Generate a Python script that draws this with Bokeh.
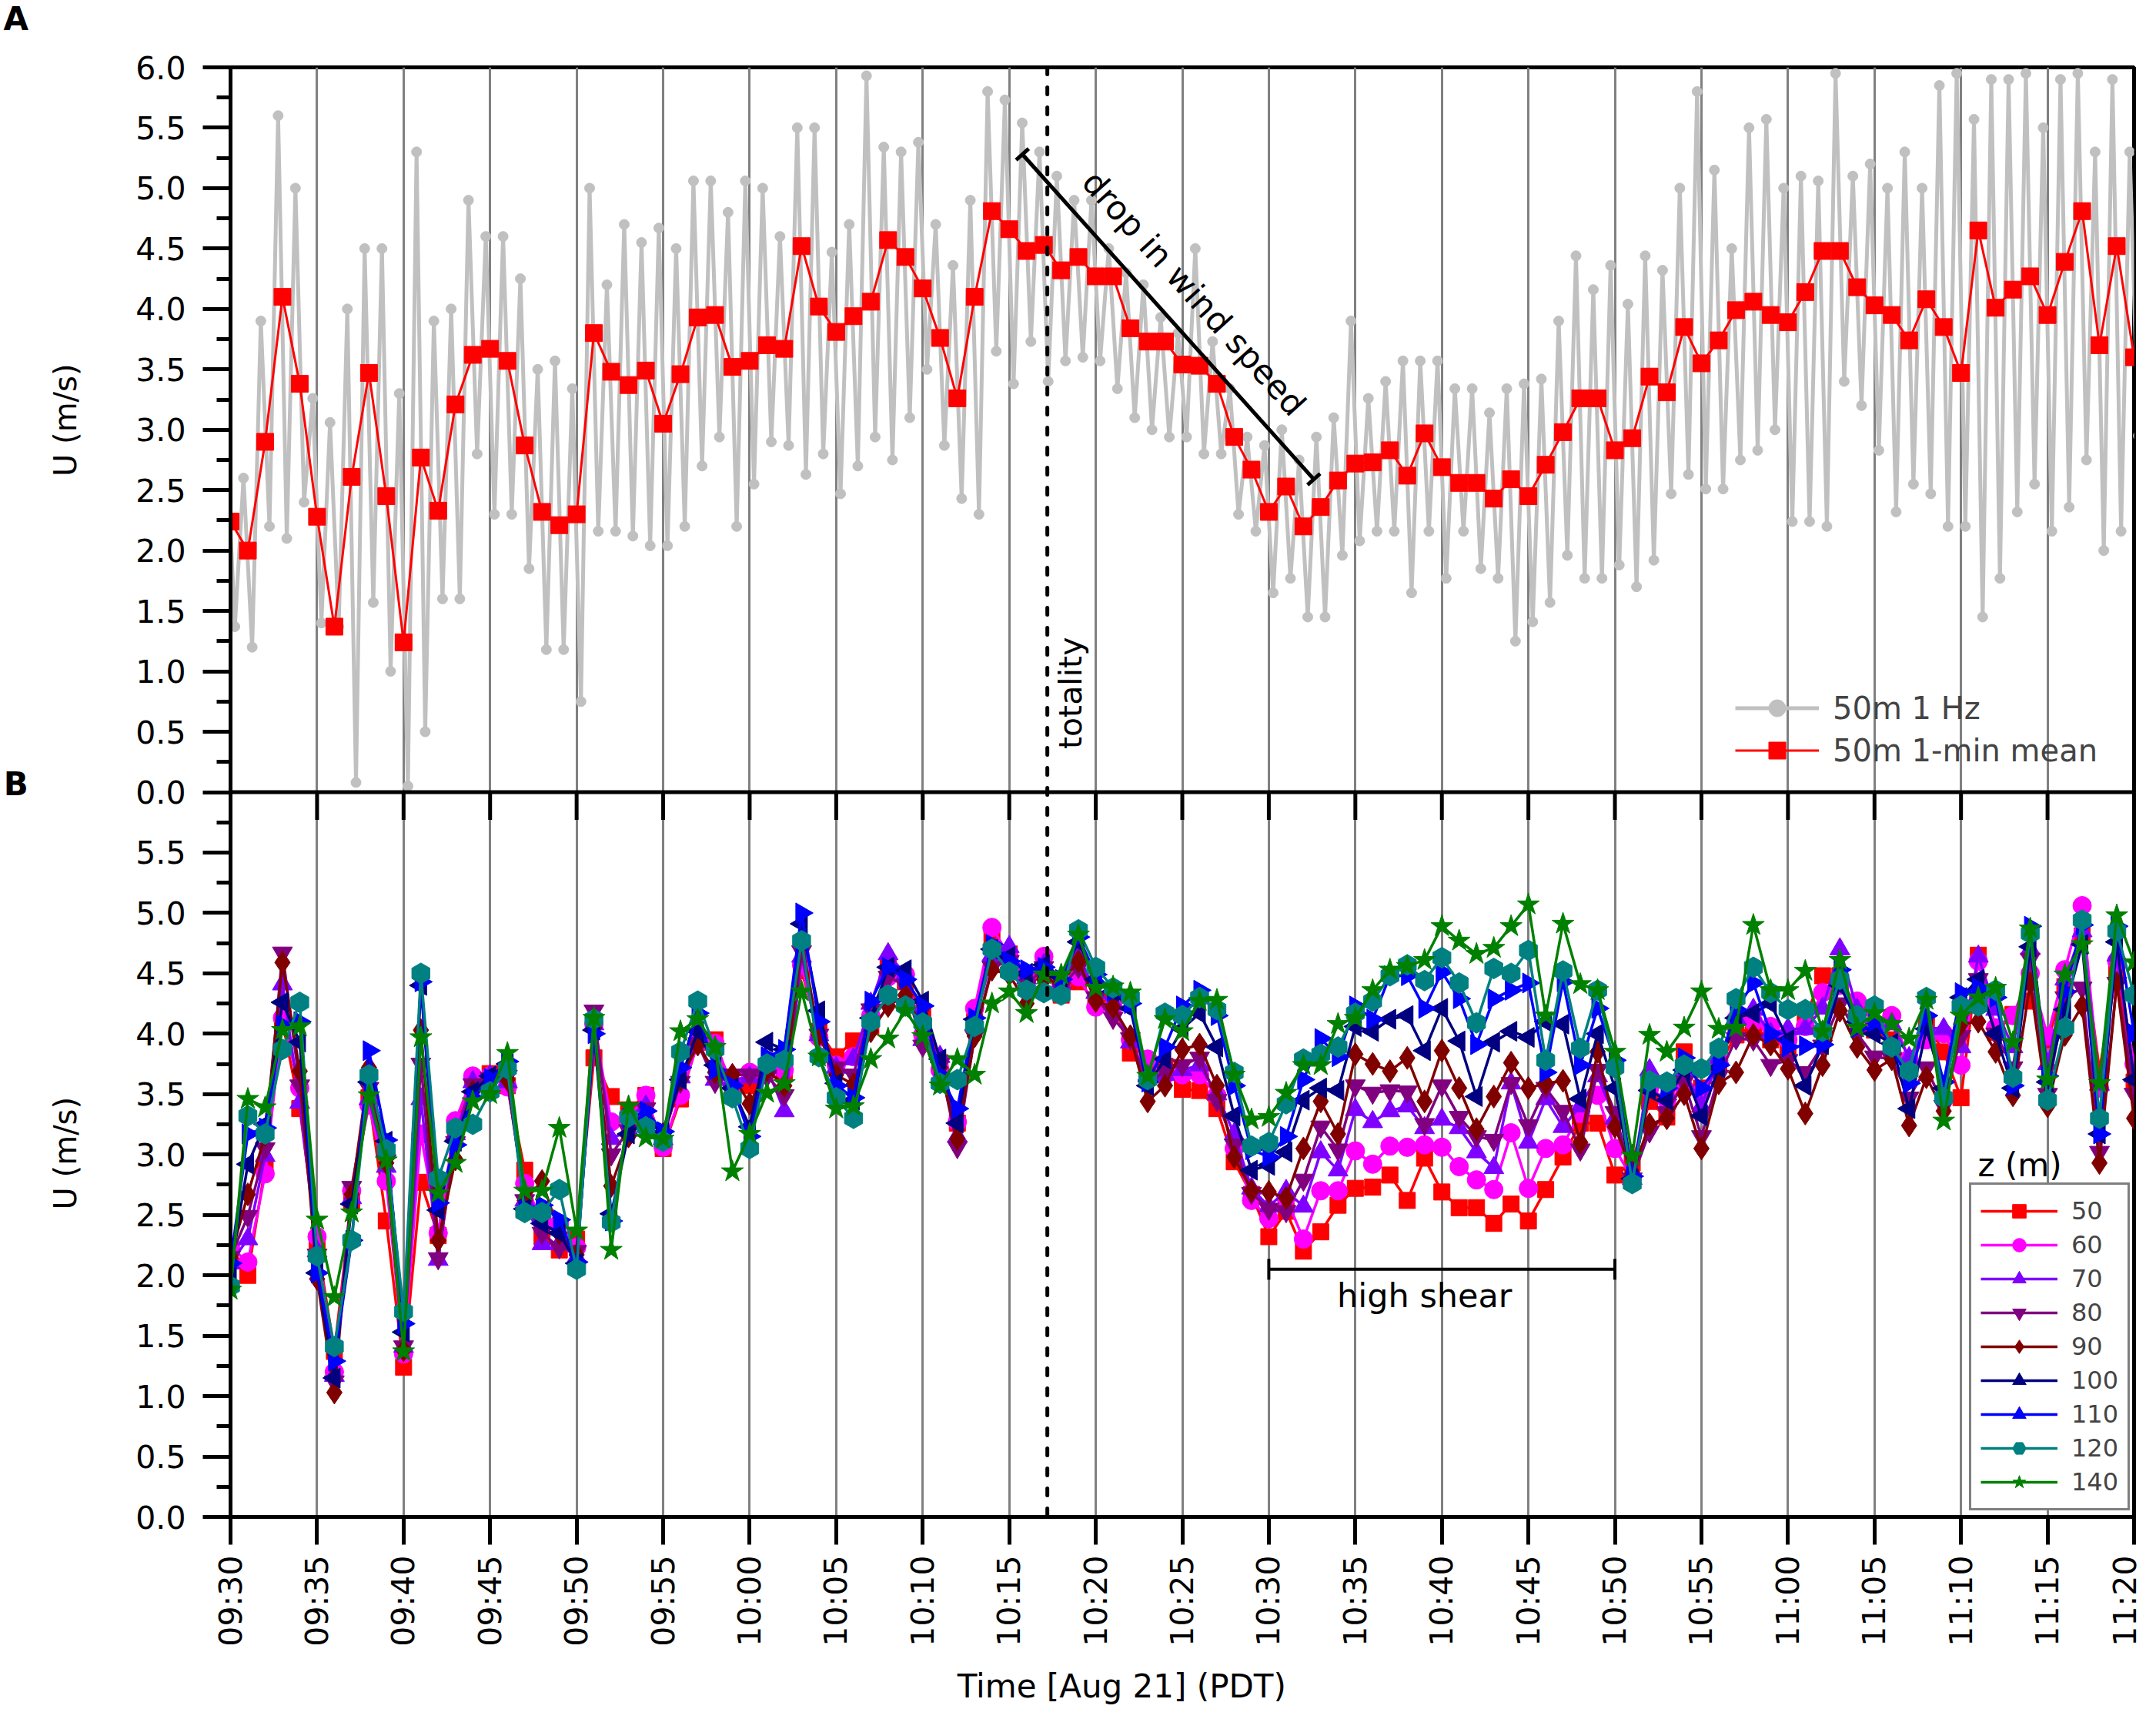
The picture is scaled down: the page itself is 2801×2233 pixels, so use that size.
import numpy as np
from bokeh.plotting import figure
from bokeh.models import Range1d, FixedTicker, Span, Label, Legend, LegendItem, Arrow, TeeHead
from bokeh.embed import file_html
from bokeh.resources import INLINE

FONT = "DejaVu Sans"

# ---------------- data ----------------
time_labels = ["09:30", "09:35", "09:40", "09:45", "09:50", "09:55", "10:00", "10:05",
               "10:10", "10:15", "10:20", "10:25", "10:30", "10:35", "10:40", "10:45",
               "10:50", "10:55", "11:00", "11:05", "11:10", "11:15", "11:20"]

# Panel A: 50 m, 1 Hz samples summarised per minute as highest / lowest sample
u50_1hz_high = [2.95, 2.60, 3.90, 5.60, 5.00, 3.26, 3.06, 4.00, 4.50, 4.50,
                3.30, 5.30, 3.90, 4.00, 4.90, 4.60, 4.60, 4.25, 3.50, 3.57,
                3.34, 5.00, 4.20, 4.70, 4.55, 4.67, 4.50, 5.06, 5.06, 4.80,
                5.06, 5.00, 4.60, 5.50, 5.50, 4.47, 4.70, 5.93, 5.34, 5.30,
                5.38, 4.70, 4.36, 4.90, 5.80, 5.73, 5.54, 5.30, 5.10, 4.90,
                4.90, 4.50, 4.30, 4.20, 3.93, 3.80, 4.50, 3.73, 3.34, 2.94,
                2.87, 3.00, 2.75, 2.94, 3.10, 3.90, 3.26, 3.40, 3.57, 3.57,
                3.57, 3.34, 3.34, 3.14, 3.34, 3.38, 3.42, 3.90, 4.44, 4.16,
                4.36, 4.04, 4.44, 4.32, 5.00, 5.80, 5.15, 4.50, 5.50, 5.57,
                5.00, 5.10, 5.06, 5.95, 5.10, 5.20, 5.00, 5.30, 5.00, 5.85,
                5.95, 5.57, 5.90, 5.90, 5.95, 5.50, 5.90, 5.95, 5.30, 5.90,
                5.30]
u50_1hz_low = [1.37, 1.20, 2.20, 2.10, 2.40, 1.40, 1.37, 0.08, 1.57, 1.00,
               0.05, 0.50, 1.60, 1.60, 2.80, 2.30, 2.30, 1.85, 1.18, 1.18,
               0.75, 2.16, 2.16, 2.12, 2.04, 2.04, 2.20, 2.70, 2.94, 2.20,
               2.55, 2.90, 2.87, 2.63, 2.80, 2.47, 2.70, 2.94, 2.75, 3.10,
               3.50, 2.87, 2.43, 2.30, 3.65, 3.38, 3.73, 3.40, 3.57, 3.60,
               3.57, 3.34, 3.10, 3.00, 2.94, 2.94, 2.80, 2.80, 2.30, 2.16,
               1.65, 1.77, 1.45, 1.45, 1.96, 2.08, 2.16, 2.16, 1.65, 2.16,
               1.77, 2.16, 1.85, 1.77, 1.25, 1.41, 1.57, 1.96, 1.77, 1.77,
               1.88, 1.70, 1.92, 2.47, 2.63, 2.51, 2.51, 2.75, 2.83, 3.00,
               2.24, 2.24, 2.20, 3.40, 3.20, 2.83, 2.32, 2.55, 2.47, 2.20,
               2.20, 1.45, 1.77, 2.32, 2.55, 2.16, 2.36, 2.75, 2.00, 2.16,
               2.95]

# 1-min means (panel A red, and z = 50 m in panel B)
u50 = [2.24, 2.00, 2.90, 4.10, 3.38, 2.28, 1.37, 2.61, 3.47, 2.45,
       1.24, 2.77, 2.33, 3.21, 3.62, 3.67, 3.57, 2.87, 2.32, 2.21,
       2.30, 3.80, 3.48, 3.37, 3.49, 3.05, 3.46, 3.93, 3.95, 3.52,
       3.57, 3.70, 3.67, 4.52, 4.02, 3.81, 3.94, 4.06, 4.57, 4.43,
       4.17, 3.76, 3.26, 4.10, 4.81, 4.66, 4.48, 4.53, 4.32, 4.43,
       4.27, 4.27, 3.84, 3.73, 3.73, 3.54, 3.53, 3.38, 2.94, 2.67,
       2.32, 2.53, 2.20, 2.36, 2.58, 2.72, 2.73, 2.83, 2.62, 2.97,
       2.69, 2.56, 2.56, 2.43, 2.59, 2.45, 2.71, 2.98, 3.26, 3.26,
       2.83, 2.93, 3.44, 3.31, 3.85, 3.55, 3.74, 3.99, 4.06, 3.95,
       3.89, 4.14, 4.48, 4.48, 4.18, 4.03, 3.95, 3.74, 4.08, 3.85,
       3.47, 4.65, 4.01, 4.16, 4.27, 3.95, 4.39, 4.81, 3.70, 4.52,
       3.60]
u60 = [2.23, 2.11, 2.84, 4.13, 3.55, 2.32, 1.20, 2.70, 3.41, 2.78,
       1.35, 3.17, 2.35, 3.28, 3.65, 3.65, 3.56, 2.76, 2.45, 2.43,
       2.23, 4.08, 3.27, 3.30, 3.49, 3.06, 3.49, 3.92, 3.92, 3.57,
       3.68, 3.70, 3.70, 4.57, 3.97, 3.74, 3.81, 4.15, 4.47, 4.49,
       3.99, 3.70, 3.27, 4.21, 4.88, 4.64, 4.45, 4.64, 4.40, 4.47,
       4.22, 4.22, 3.95, 3.79, 3.66, 3.66, 3.66, 3.49, 3.05, 2.62,
       2.47, 2.64, 2.30, 2.70, 2.70, 3.03, 2.92, 3.07, 3.06, 3.08,
       3.06, 2.90, 2.79, 2.71, 3.18, 2.72, 3.05, 3.08, 3.34, 3.49,
       3.05, 2.80, 3.55, 3.45, 3.55, 3.51, 3.78, 4.12, 4.10, 4.06,
       3.95, 4.06, 4.34, 4.40, 4.27, 4.08, 4.15, 3.79, 3.95, 4.00,
       3.74, 4.60, 4.05, 4.15, 4.50, 3.98, 4.53, 5.06, 3.55, 4.60,
       3.75]
u70 = [2.10, 2.30, 2.99, 4.41, 3.43, 2.20, 1.17, 2.64, 3.46, 2.90,
       1.41, 3.46, 2.13, 3.17, 3.60, 3.65, 3.60, 2.62, 2.26, 2.26,
       2.15, 4.08, 3.13, 3.20, 3.40, 3.13, 3.64, 3.95, 3.62, 3.62,
       3.64, 3.72, 3.36, 4.64, 3.99, 3.72, 3.79, 4.25, 4.66, 4.49,
       3.95, 3.81, 3.15, 4.08, 4.65, 4.72, 4.46, 4.57, 4.42, 4.65,
       4.34, 4.25, 3.93, 3.65, 3.66, 3.70, 3.74, 3.50, 3.17, 2.72,
       2.57, 2.70, 2.57, 3.02, 2.87, 3.37, 3.27, 3.36, 3.40, 3.22,
       3.29, 3.22, 3.02, 2.89, 3.59, 3.10, 3.46, 3.23, 3.40, 3.65,
       3.30, 2.80, 3.70, 3.50, 3.70, 3.40, 3.80, 4.13, 4.20, 4.00,
       4.04, 4.04, 4.21, 4.70, 4.20, 4.05, 4.08, 3.80, 4.05, 4.04,
       3.89, 4.64, 4.20, 3.89, 4.70, 3.75, 4.45, 4.85, 3.58, 4.65,
       3.65]
u80 = [2.15, 2.49, 3.05, 4.67, 3.57, 2.17, 1.12, 2.73, 3.55, 2.95,
       1.41, 3.75, 2.14, 3.10, 3.58, 3.63, 3.65, 2.62, 2.35, 2.23,
       2.20, 4.19, 3.00, 3.20, 3.38, 3.15, 3.60, 3.92, 3.60, 3.66,
       3.66, 3.65, 3.49, 4.68, 3.99, 3.72, 3.66, 4.20, 4.47, 4.40,
       3.90, 3.75, 3.06, 3.98, 4.55, 4.60, 4.40, 4.55, 4.38, 4.55,
       4.30, 4.13, 3.96, 3.57, 3.70, 3.74, 3.80, 3.45, 3.08, 2.68,
       2.55, 2.53, 2.79, 3.23, 3.04, 3.57, 3.51, 3.53, 3.52, 3.25,
       3.57, 3.31, 3.15, 3.12, 3.59, 3.24, 3.55, 3.36, 3.04, 3.70,
       3.35, 2.80, 3.19, 3.35, 3.60, 3.15, 3.65, 3.96, 3.95, 3.74,
       3.78, 3.68, 3.90, 4.25, 4.00, 3.81, 3.79, 3.47, 3.72, 3.40,
       3.98, 4.45, 4.00, 3.72, 4.62, 3.50, 4.30, 4.38, 3.02, 4.42,
       3.50]
u90 = [2.15, 2.67, 3.16, 4.59, 3.69, 1.97, 1.03, 2.67, 3.72, 2.93,
       1.38, 4.03, 2.29, 2.96, 3.52, 3.60, 3.62, 2.62, 2.78, 2.35,
       2.17, 4.05, 2.74, 3.15, 3.30, 3.17, 3.62, 3.91, 3.68, 3.66,
       3.42, 3.70, 3.57, 4.76, 3.99, 3.66, 3.58, 4.02, 4.23, 4.32,
       4.04, 3.72, 3.13, 3.98, 4.53, 4.49, 4.25, 4.45, 4.42, 4.60,
       4.27, 4.22, 3.98, 3.44, 3.57, 3.87, 3.91, 3.57, 2.98, 2.70,
       2.69, 2.64, 3.05, 3.44, 3.17, 3.83, 3.75, 3.69, 3.80, 3.44,
       3.86, 3.55, 3.21, 3.48, 3.76, 3.55, 3.59, 3.61, 3.10, 3.85,
       3.23, 2.85, 3.25, 3.30, 3.50, 3.05, 3.59, 3.68, 3.99, 3.91,
       3.71, 3.34, 3.74, 4.19, 3.89, 3.70, 3.79, 3.24, 3.64, 3.36,
       4.08, 4.10, 3.85, 3.49, 4.42, 3.40, 3.99, 4.23, 2.93, 4.42,
       3.30]
u100 = [2.05, 2.92, 3.25, 4.26, 3.93, 2.02, 1.15, 2.59, 3.60, 3.11,
        1.53, 4.40, 2.54, 3.11, 3.52, 3.65, 3.75, 2.55, 2.43, 2.35,
        2.10, 4.03, 2.51, 3.17, 3.28, 3.18, 3.62, 4.02, 3.74, 3.55,
        3.23, 3.93, 3.87, 4.91, 4.19, 3.59, 3.45, 4.13, 4.55, 4.53,
        4.27, 3.79, 3.26, 4.12, 4.70, 4.64, 4.50, 4.57, 4.47, 4.76,
        4.45, 4.35, 4.21, 3.57, 3.79, 4.04, 4.17, 3.89, 3.32, 2.87,
        2.91, 3.02, 3.45, 3.55, 3.53, 4.06, 4.02, 4.12, 4.15, 3.86,
        4.21, 3.94, 3.48, 3.93, 4.02, 3.97, 4.10, 4.08, 3.46, 4.00,
        3.55, 2.80, 3.53, 3.45, 3.70, 3.32, 3.72, 4.13, 4.17, 4.25,
        3.95, 3.57, 3.91, 4.40, 4.10, 4.00, 3.92, 3.38, 4.04, 3.55,
        4.30, 4.45, 4.00, 3.55, 4.72, 3.60, 4.20, 4.74, 3.17, 4.76,
        3.62]
u110 = [2.10, 3.17, 3.22, 4.07, 4.10, 2.02, 1.29, 2.29, 3.86, 3.12,
        1.60, 4.43, 2.60, 3.08, 3.47, 3.63, 3.77, 2.55, 2.58, 2.46,
        2.11, 4.00, 2.45, 3.30, 3.36, 3.19, 3.72, 4.17, 3.70, 3.57,
        3.15, 3.81, 3.87, 5.00, 4.10, 3.57, 3.47, 4.27, 4.55, 4.45,
        4.23, 3.66, 3.38, 4.13, 4.74, 4.60, 4.53, 4.55, 4.45, 4.80,
        4.49, 4.35, 4.25, 3.60, 3.89, 4.23, 4.36, 4.15, 3.57, 3.04,
        2.98, 3.15, 3.62, 3.96, 3.81, 4.23, 4.12, 4.48, 4.48, 4.21,
        4.51, 4.29, 3.91, 4.29, 4.36, 4.42, 3.68, 4.43, 3.74, 4.21,
        3.78, 2.82, 3.60, 3.55, 3.80, 3.55, 3.74, 4.20, 4.42, 4.00,
        3.89, 3.90, 3.91, 4.53, 4.05, 4.10, 3.90, 3.59, 4.15, 3.60,
        4.34, 4.38, 4.30, 3.57, 4.89, 3.65, 4.35, 4.90, 3.17, 4.89,
        4.00]
u120 = [1.91, 3.32, 3.17, 3.87, 4.26, 2.16, 1.41, 2.29, 3.66, 3.04,
        1.70, 4.50, 2.80, 3.22, 3.25, 3.52, 3.71, 2.52, 2.52, 2.71,
        2.05, 4.12, 2.44, 3.31, 3.23, 3.11, 3.85, 4.27, 3.87, 3.47,
        3.05, 3.75, 3.78, 4.77, 3.81, 3.47, 3.30, 4.10, 4.32, 4.23,
        4.09, 3.59, 3.62, 4.06, 4.70, 4.51, 4.36, 4.34, 4.32, 4.86,
        4.55, 4.38, 4.30, 3.62, 4.17, 4.15, 4.30, 4.20, 3.68, 3.07,
        3.10, 3.42, 3.79, 3.83, 3.89, 4.17, 4.27, 4.48, 4.57, 4.44,
        4.63, 4.42, 4.09, 4.54, 4.50, 4.69, 3.78, 4.52, 3.88, 4.36,
        3.72, 2.76, 3.61, 3.60, 3.74, 3.71, 3.88, 4.29, 4.55, 4.34,
        4.20, 4.20, 4.02, 4.45, 4.15, 4.23, 3.89, 3.69, 4.30, 3.47,
        4.23, 4.23, 4.36, 3.64, 4.83, 3.45, 4.05, 4.94, 3.30, 4.85,
        4.32]
u140 = [1.88, 3.46, 3.39, 4.03, 4.06, 2.46, 1.82, 2.52, 3.49, 2.95,
        1.37, 3.97, 2.68, 2.93, 3.44, 3.50, 3.84, 2.70, 2.70, 3.22,
        2.37, 4.13, 2.21, 3.40, 3.14, 3.13, 4.02, 4.12, 3.89, 2.86,
        3.17, 3.51, 3.59, 4.35, 3.81, 3.38, 3.40, 3.79, 3.96, 4.19,
        3.98, 3.57, 3.79, 3.66, 4.25, 4.35, 4.17, 4.49, 4.49, 4.82,
        4.38, 4.39, 4.34, 3.65, 4.12, 4.02, 4.27, 4.28, 3.66, 3.29,
        3.31, 3.51, 3.74, 3.74, 4.08, 4.13, 4.36, 4.53, 4.56, 4.61,
        4.89, 4.77, 4.66, 4.71, 4.89, 5.07, 4.15, 4.91, 4.41, 4.36,
        3.85, 2.99, 3.99, 3.85, 4.05, 4.35, 4.04, 4.05, 4.90, 4.36,
        4.36, 4.52, 4.02, 4.61, 4.05, 4.17, 4.08, 3.96, 4.28, 3.28,
        4.15, 4.30, 4.38, 3.93, 4.87, 3.62, 4.49, 4.74, 3.59, 4.98,
        4.59]

heights = ["50", "60", "70", "80", "90", "100", "110", "120", "140"]
profiles = [u50, u60, u70, u80, u90, u100, u110, u120, u140]

totality_min = 47.2                    # 10:17:12
drop_start = (45.76, 5.28)             # annotation bracket in panel A
drop_end = (62.6, 2.59)
shear_start, shear_end, shear_level = 60, 80, 2.05

for arr in profiles + [u50_1hz_high, u50_1hz_low]:
    assert len(arr) == 111

# ---------------- styling ----------------
series_colors = ["#FF0000", "#FF00FF", "#8000FF", "#800080", "#800000",
                 "#000080", "#0000FF", "#008080", "#008000"]
series_markers = [("square", 21, 0.0), ("circle", 24, 0.0), ("triangle", 26, 0.0),
                  ("inverted_triangle", 26, 0.0), ("diamond", 30, 0.0),
                  ("triangle", 26, np.pi / 2), ("triangle", 26, -np.pi / 2),
                  ("hex", 27, np.pi / 2), ("star", 30, 0.0)]

minute = list(range(len(u50)))
xticks = [5 * i for i in range(len(time_labels))]
OFFSET = 6.0                           # panel A is stacked on top of panel B
ya_ticks = [0.5 * i for i in range(13)]
yb_ticks = [0.5 * i for i in range(12)]

FW, FH = 2473, 1883
BL, BT, BB = 299, 87, 244
p = figure(frame_width=FW, frame_height=FH,
           x_range=Range1d(0, xticks[-1]), y_range=Range1d(0, 2 * OFFSET),
           min_border_left=BL, min_border_right=12, min_border_top=BT, min_border_bottom=BB,
           output_backend="svg", toolbar_location=None,
           background_fill_color="white", border_fill_color="white")
p.extra_y_ranges = {"a": Range1d(-OFFSET, OFFSET)}
p.outline_line_color = "black"
p.outline_line_width = 5

p.xgrid.ticker = FixedTicker(ticks=xticks)
p.xgrid.grid_line_color = "#808080"
p.xgrid.grid_line_width = 3
p.ygrid.grid_line_color = None

xa = p.xaxis[0]
xa.ticker = FixedTicker(ticks=xticks, minor_ticks=[])
xa.major_label_overrides = {t: s for t, s in zip(xticks, time_labels)}
xa.major_label_orientation = np.pi / 2
xa.major_label_text_font = FONT
xa.major_label_text_font_size = "41px"
xa.major_label_text_color = "black"
xa.major_label_standoff = 14
xa.major_tick_out = 36
xa.major_tick_in = 0
xa.major_tick_line_width = 5
xa.minor_tick_line_color = None
xa.axis_line_width = 5

ya = p.yaxis[0]
ytick_pos = yb_ticks + [OFFSET + t for t in ya_ticks]
ytick_lab = ["%.1f" % t for t in yb_ticks] + ["%.1f" % t for t in ya_ticks]
ya.ticker = FixedTicker(ticks=ytick_pos, minor_ticks=[0.25 + 0.5 * i for i in range(24)])
ya.major_label_overrides = {t: s for t, s in zip(ytick_pos, ytick_lab)}
ya.major_label_text_font = FONT
ya.major_label_text_font_size = "41px"
ya.major_label_text_color = "black"
ya.major_label_standoff = 22
ya.major_tick_out = 36
ya.major_tick_in = 0
ya.minor_tick_out = 18
ya.minor_tick_in = 0
ya.major_tick_line_width = 5
ya.minor_tick_line_width = 5
ya.axis_line_width = 5

# ---------------- panel A ----------------
gx, gy = [], []
for m in minute:
    gx += [m - 0.25, m + 0.25]
    gy += [u50_1hz_high[m], u50_1hz_low[m]]
g_line = p.line(gx, gy, line_color="#C0C0C0", line_width=5, y_range_name="a")
g_pts = p.scatter(gx, gy, marker="circle", size=13, fill_color="#C0C0C0",
                  line_color="#C0C0C0", y_range_name="a")
r_line = p.line(minute, u50, line_color="#FF0000", line_width=3, y_range_name="a")
r_pts = p.scatter(minute, u50, marker="square", size=22, fill_color="#FF0000",
                  line_color="#FF0000", y_range_name="a")

# ---------------- panel B ----------------
items_b = []
for lab, ys, col, (mk, sz, ang) in zip(heights, profiles, series_colors, series_markers):
    ln = p.line(minute, ys, line_color=col, line_width=3.5)
    sc = p.scatter(minute, ys, marker=mk, size=sz, angle=ang, fill_color=col, line_color=col)
    items_b.append(LegendItem(label=lab, renderers=[ln, sc]))

# boundary between panels, with the tick marks pointing down into panel B
p.add_layout(Span(location=OFFSET, dimension="width", line_color="black", line_width=5))
tick_len = 36 * (2 * OFFSET) / FH
p.segment(x0=xticks, y0=[OFFSET] * len(xticks), x1=xticks, y1=[OFFSET - tick_len] * len(xticks),
          line_color="black", line_width=5)

# totality
p.add_layout(Span(location=totality_min, dimension="height", line_color="black",
                  line_width=5, line_dash="9 17", line_cap="round"))

def label(text, x, y, size="42px", angle=0.0, rng="default", bold=False, place="center"):
    kw = dict(x=x, y=y, text=text, text_font=FONT, text_font_size=size, angle=angle,
              text_align="center", text_baseline="middle", text_color="black",
              text_font_style="bold" if bold else "normal")
    if rng != "default":
        kw["y_range_name"] = rng
    p.add_layout(Label(**kw), place)

label("totality", 48.55, 0.82, size="41px", angle=np.pi / 2, rng="a")
p.add_layout(Arrow(start=TeeHead(size=22, line_width=5), end=TeeHead(size=22, line_width=5),
                   x_start=drop_start[0], y_start=drop_start[1],
                   x_end=drop_end[0], y_end=drop_end[1],
                   line_width=5, line_color="black", y_range_name="a"))
label("drop in wind speed", 55.68, 4.13, size="43px", angle=-0.8395, rng="a")

p.add_layout(Arrow(start=TeeHead(size=27, line_width=4), end=TeeHead(size=27, line_width=4),
                   x_start=shear_start, y_start=shear_level, x_end=shear_end, y_end=shear_level,
                   line_width=4, line_color="black"))
label("high shear", 69.0, 1.83, size="43px")
label("z (m)", 103.4, 2.91, size="42px")

# texts outside the frame: placed in side panels so they are not clipped to the frame
label("U (m/s)", -9.55, 9.08, size="40px", angle=np.pi / 2, place="left")
label("U (m/s)", -9.55, 3.01, size="40px", angle=np.pi / 2, place="left")
label("B", -12.4, 6.07, size="42px", bold=True, place="left")
label("A", -12.4, 12.40, size="42px", bold=True, place="above")
label("Time [Aug 21] (PDT)", 51.5, -1.40, size="42px", place="below")

# ---------------- legends ----------------
leg_a = Legend(items=[LegendItem(label="50m 1 Hz", renderers=[g_line, g_pts]),
                      LegendItem(label="50m 1-min mean", renderers=[r_line, r_pts])],
               location=(1955, 968), label_text_font=FONT, label_text_font_size="40px",
               label_height=55, glyph_height=55, glyph_width=109, label_standoff=18,
               padding=0, spacing=0, margin=0, border_line_color=None,
               background_fill_alpha=0.0)
p.add_layout(leg_a)

leg_b = Legend(items=items_b, location=(2259, 8), label_text_font=FONT,
               label_text_font_size="32px", label_height=44, glyph_height=44,
               glyph_width=100, label_standoff=18, padding=12, spacing=0, margin=0,
               border_line_color="black", border_line_width=3,
               background_fill_color="white", background_fill_alpha=1.0)
p.add_layout(leg_b)

open("out.html", "w").write(file_html(p, INLINE, title="wind speed"))
